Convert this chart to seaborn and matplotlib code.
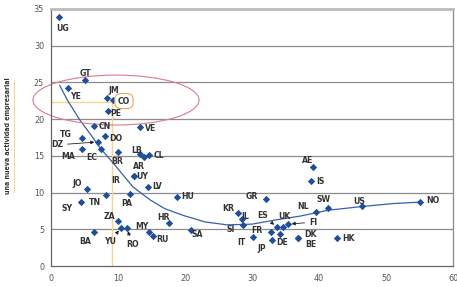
import numpy as np
import pandas as pd
import matplotlib.pyplot as plt
import matplotlib.lines as mlines
from matplotlib.patches import Ellipse
import seaborn as sns

# country codes and values
codes = ['UG', 'GT', 'YE', 'JM', 'CO', 'PE', 'CN', 'VE', 'TG', 'DO', 'DZ', 'MA', 'EC',
         'BR', 'LB', '', 'CL', 'UY', 'AR', 'LV', 'JO', 'HU', 'TN', 'PA', 'SY', 'ZA', 'HR',
         'MY', 'YU', 'RO', 'BA', 'RU', 'SA', 'KR', 'IL', 'SI', 'GR', 'IT', 'FR', 'JP', 'DE',
         'ES', 'UK', 'FI', 'DK', 'BE', 'NL', 'SW', 'US', 'NO', 'AE', 'IS', 'HK']
x_vals = [1.2, 5.1, 2.5, 8.4, 9.25, 8.5, 6.4, 13.3, 4.6, 8.1, 7.0, 4.6, 7.5,
          10.0, 13.3, 13.9, 14.6, 12.4, 12.4, 14.5, 5.4, 18.8, 8.2, 11.8, 4.5, 10.0, 17.6,
          14.6, 10.45, 11.3, 6.4, 15.2, 20.9, 27.9, 28.5, 28.7, 32.1, 30.1, 32.8, 33.0, 34.2,
          33.7, 34.6, 35.4, 36.9, 36.9, 39.5, 41.3, 46.4, 55.1, 39.1, 38.8, 42.7]
y_vals = [33.9, 25.3, 24.2, 22.9, 22.6, 21.1, 19.0, 18.9, 17.5, 17.7, 16.9, 15.9, 16.0,
          15.5, 15.2, 14.8, 15.1, 12.2, 12.2, 10.8, 10.5, 9.4, 9.7, 9.8, 8.7, 6.1, 5.8,
          4.6, 5.2, 5.2, 4.6, 4.1, 4.9, 7.2, 6.4, 5.6, 9.1, 3.9, 4.6, 3.5, 4.35,
          5.3, 5.3, 5.7, 3.8, 3.8, 7.35, 7.9, 8.15, 8.7, 13.5, 11.6, 3.8]

# label offsets (pixels) from each marker
dx = [4, 0, 8, 6, 11, 8, 11, 10, -16, 11, -41, -14, -10,
      -1, -3, 0, 10, 8, 5, 9, -10, 11, -11, -3, -14, -9, -5,
      -7, -11, 6, -9, 10, 6, -10, 3, -13, -14, -11, -14, -10, 2,
      -14, 2, 25, 12, 13, -13, -4, -3, 13, -5, 9, 11]
dy = [-11, 7, -8, 7, -1, -2, 0, -1, 3, -2, -3, -7, -9,
      -9, 4, 0, 0, 0, 10, 0, 5, 0, -8, -9, -6, 5, 6,
      6, -14, -17, -9, -4, -4, 5, 3, -5, 3, -5, 2, -8, -8,
      12, 11, 2, 4, -6, 6, 8, 5, 2, 6, -1, 0]
arrow_codes = ['DZ', 'YU', 'RO', 'ES', 'FI']

# trend curve
curve_x = [1.3, 2.5, 4.3, 6.0, 7.3, 9.3, 12.2, 14.8, 17.0, 19.7, 23.0, 26.3, 30.0,
           33.7, 37.2, 41.4, 46.4, 51.0, 55.1]
curve_y = [24.6, 22.5, 19.9, 17.8, 16.1, 14.0, 10.8, 9.0, 7.8, 6.9, 6.0, 5.6, 5.7,
           6.3, 6.8, 7.6, 8.1, 8.5, 8.7]

df = pd.DataFrame({'code': codes, 'x': x_vals, 'y': y_vals})
curve = pd.DataFrame({'x': curve_x, 'y': curve_y})

sns.set_theme(style='white')
plt.rcParams['font.family'] = ['DejaVu Sans']
plt.rcParams['font.stretch'] = 'condensed'

fig = plt.figure(figsize=(4.57, 2.87), dpi=100)
ax = fig.add_axes([51 / 457, 21 / 287, 402 / 457, 257 / 287])

blue = '#1d4f9e'
yellow = '#f6d68c'

# guide lines to CO
ax.plot([0, 8.8], [22.35, 22.35], color=yellow, lw=1, zorder=1)
ax.plot([9.15, 9.15], [0, 22.2], color=yellow, lw=1, zorder=1)

sns.lineplot(data=curve, x='x', y='y', ax=ax, color='#3560ad', lw=0.9, sort=False, zorder=2)
sns.scatterplot(data=df, x='x', y='y', ax=ax, marker='D', s=14, color=blue,
                linewidth=0, zorder=3)

for code, xv, yv, ox, oy in zip(codes, x_vals, y_vals, dx, dy):
    if code == '':
        continue
    kw = dict(textcoords='offset pixels', ha='center', va='center', fontsize=6.2,
              fontweight='bold', color='#333333', zorder=4)
    if code in arrow_codes:
        kw['arrowprops'] = dict(arrowstyle='-|>', color='#222222', lw=0.6,
                                mutation_scale=5, shrinkA=1, shrinkB=2.5)
    if code == 'CO':
        kw['bbox'] = dict(boxstyle='round,pad=0.35,rounding_size=0.7', fc='white',
                          ec='#f0a458', lw=0.8)
    ax.annotate(code, xy=(xv, yv), xytext=(ox, oy), **kw)

# IR label without a visible marker
ax.text(9.7, 11.7, 'IR', ha='center', va='center', fontsize=6.2, fontweight='bold',
        color='#333333')

ax.add_patch(Ellipse((9.7, 22.6), 24.8, 6.8, fill=False, ec='#e07a88', lw=0.8,
                     clip_on=False, zorder=2))

ax.set_xlim(0, 60)
ax.set_ylim(0, 35)
ax.set_xticks(range(0, 61, 10))
ax.set_yticks(range(0, 36, 5))
ax.set_xlabel('')
ax.set_ylabel('')
ax.tick_params(axis='both', labelsize=6.5, labelcolor='#555555', length=3,
               width=0.8, color='#666666', direction='out', pad=2)
ax.tick_params(axis='x', pad=3)
for yv in range(5, 35, 5):
    ax.axhline(yv, color='#8c8c8c', lw=0.9, zorder=0)
ax.spines['left'].set_color('#666666')
ax.spines['bottom'].set_color('#666666')
ax.spines['top'].set_color('#bbbbbb')
ax.spines['top'].set_linewidth(2)
ax.spines['right'].set_color('#888888')
for side in ['left', 'bottom', 'right']:
    ax.spines[side].set_linewidth(0.9)

# cut-off y axis title
fig.text(8 / 457, 1 - 136 / 287, 'una nueva actividad empresarial', rotation=90,
         ha='center', va='center', fontsize=5, fontweight='bold', color='#333333')
fig.add_artist(mlines.Line2D([14 / 457, 14 / 457], [1 - 80 / 287, 1 - 192 / 287],
                             color=yellow, lw=0.8))

fig.savefig('out.png', dpi=100)
